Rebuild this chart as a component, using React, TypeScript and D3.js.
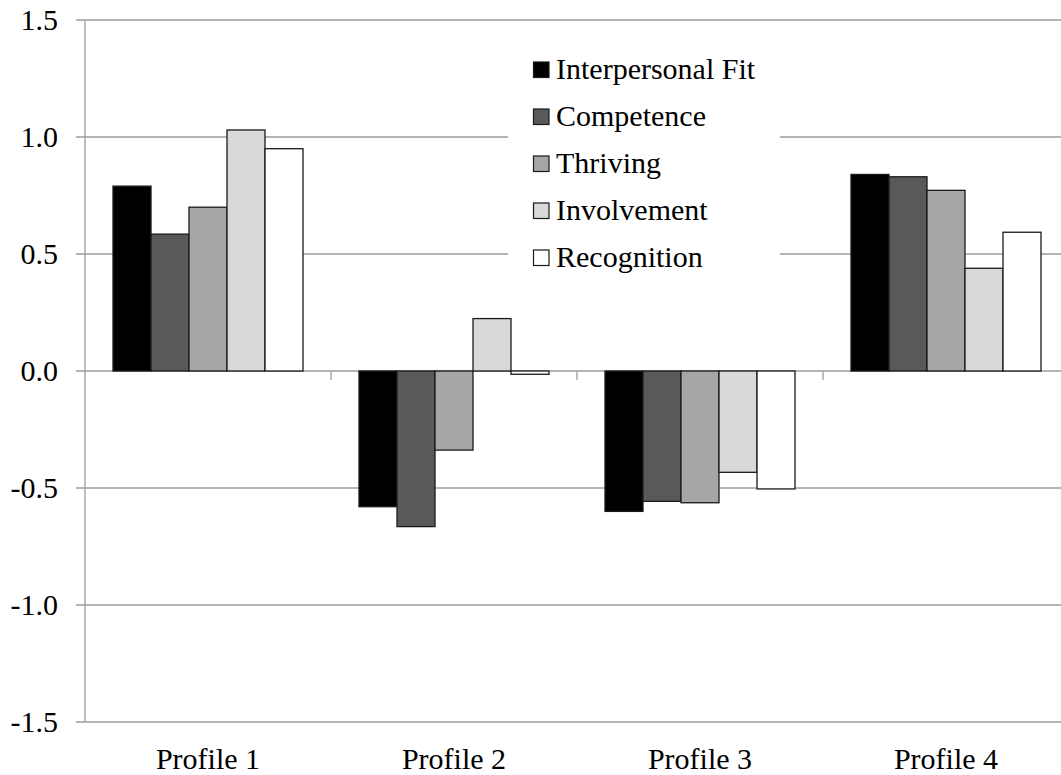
import { scaleBand, scaleLinear } from 'd3';

const categories = ['Profile 1', 'Profile 2', 'Profile 3', 'Profile 4'];
const seriesNames = ['Interpersonal Fit', 'Competence', 'Thriving', 'Involvement', 'Recognition'];
const seriesColors = ['#000000', '#595959', '#a6a6a6', '#d9d9d9', '#ffffff'];

const interpersonalFit = [0.79, -0.58, -0.6, 0.84];
const competence = [0.585, -0.665, -0.557, 0.83];
const thriving = [0.7, -0.338, -0.563, 0.772];
const involvement = [1.03, 0.224, -0.433, 0.439];
const recognition = [0.95, -0.014, -0.504, 0.593];

const yTicks = [-1.5, -1.0, -0.5, 0.0, 0.5, 1.0, 1.5];

const seriesValues = [interpersonalFit, competence, thriving, involvement, recognition];

const FONT = "'Liberation Serif'";
const GRID = '#9d9d9d';

const width = 1061;
const height = 775;
const margin = { top: 20, left: 85, bottom: 53 };

// plot is wider than the picture: the last band runs off the right edge
const x0 = scaleBand().domain(categories).range([margin.left, margin.left + 246 * 4]).padding(0);
const x1 = scaleBand().domain(seriesNames).range([28, 218]).padding(0);
const y = scaleLinear().domain([-1.5, 1.5]).range([height - margin.bottom, margin.top]);

const textStyle = { fontFamily: FONT, fontSize: 30 };

export default function App() {
  return (
    <div style={{ position: 'absolute', left: 0, top: 0, width, height, background: '#fff' }}>
      <svg width={width} height={height} style={{ display: 'block' }}>
        {/* gridlines, extending left as tick marks */}
        {yTicks.map((t) => (
          <line key={t} x1={margin.left - 9} x2={width} y1={y(t)} y2={y(t)} stroke={GRID} strokeWidth={1.3} />
        ))}
        <line x1={margin.left} x2={margin.left} y1={y(1.5)} y2={y(-1.5)} stroke={GRID} strokeWidth={1.3} />
        {yTicks.map((t) => (
          <text key={'l' + t} x={58} y={y(t) + 10} textAnchor="end" style={textStyle} fill="#000">
            {t.toFixed(1)}
          </text>
        ))}

        {/* category ticks on the zero line */}
        {categories.slice(1).map((c) => (
          <line key={c} x1={x0(c)} x2={x0(c)} y1={y(0)} y2={y(0) + 9} stroke={GRID} strokeWidth={1.3} />
        ))}

        {/* bars */}
        {seriesValues.map((vals, si) =>
          vals.map((v, i) => (
            <rect
              key={si + '-' + i}
              x={(x0(categories[i]) || 0) + (x1(seriesNames[si]) || 0)}
              width={x1.bandwidth()}
              y={Math.min(y(v), y(0))}
              height={Math.abs(y(v) - y(0))}
              fill={seriesColors[si]}
              stroke="#1a1a1a"
              strokeWidth={1.3}
            />
          ))
        )}

        {/* category labels */}
        {categories.map((c) => (
          <text key={c} x={(x0(c) || 0) + x0.bandwidth() / 2} y={769} textAnchor="middle" style={textStyle} fill="#000">
            {c}
          </text>
        ))}

        {/* legend */}
        <rect x={508} y={45} width={272} height={238} fill="#fff" />
        {seriesNames.map((name, i) => {
          const top = 62 + i * 47;
          return (
            <g key={name}>
              <rect x={533.5} y={top} width={15.5} height={15.5} fill={seriesColors[i]} stroke="#1a1a1a" strokeWidth={1.2} />
              <text x={556} y={top + 17} style={textStyle} fill="#000">
                {name}
              </text>
            </g>
          );
        })}
      </svg>
    </div>
  );
}
